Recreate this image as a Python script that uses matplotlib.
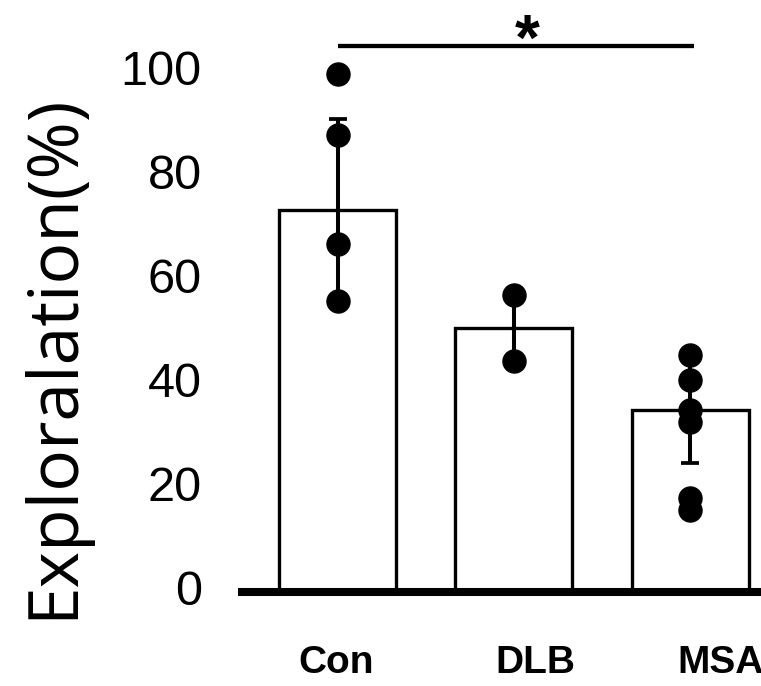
import matplotlib
matplotlib.use("Agg")
import matplotlib.pyplot as plt
import numpy as np

# ---- data ----
categories = ["Con", "DLB", "MSA"]
means = [73.5, 50.8, 35.0]
errors = [17.5, 6.3, 10.2]
points_con = [99.7, 87.9, 67.0, 56.0]
points_dlb = [57.1, 44.4]
points_msa = [45.6, 40.8, 35.0, 32.7, 18.1, 15.8]
points = [points_con, points_dlb, points_msa]
yticks = [0, 20, 40, 60, 80, 100]
ylabel = "Exploralation(%)"
sig_pair = (0, 2)
sig_text = "*"

# ---- style ----
label_x_offset = [-0.01, 0.12, 0.17]

fig = plt.figure(figsize=(7.61, 6.86), dpi=100)
ax = fig.add_axes([0.318, 0.137, 0.682, 0.758])

x = np.arange(len(categories))
ax.bar(x, means, width=0.664, color="white", edgecolor="black",
       linewidth=2.4, zorder=2)
ax.errorbar(x, means, yerr=errors, fmt="none", ecolor="black",
            elinewidth=2.9, capsize=6.7, capthick=2.7, zorder=3)
for xi, pts in zip(x, points):
    ax.plot([xi] * len(pts), pts, "o", color="black", markersize=16.6,
            zorder=4, clip_on=False)

ax.set_xlim(-0.542, 2.402)
ax.set_ylim(0, 100)

for s in ["top", "right", "left"]:
    ax.spines[s].set_visible(False)
ax.spines["bottom"].set_linewidth(5.8)
ax.spines["bottom"].set_zorder(5)

ax.set_yticks(yticks)
ax.set_yticklabels([str(t) for t in yticks], fontsize=35,
                   fontfamily="Liberation Sans")
for lab in ax.get_yticklabels():
    lab.set_verticalalignment("center")
ax.tick_params(axis="y", length=0, pad=29)
ax.set_xticks([])

for xi, lab, off in zip(x, categories, label_x_offset):
    ax.text(xi + off, -0.1366, lab, transform=ax.get_xaxis_transform(),
            ha="center", va="center", fontsize=28, fontweight="bold",
            fontfamily="Liberation Sans", clip_on=False)

# significance bar
ax.plot([x[sig_pair[0]], x[sig_pair[1]] + 0.02], [105, 105], color="black",
        linewidth=3.1, clip_on=False, solid_capstyle="butt")
ax.text(1.075, 102.3, sig_text, ha="center", va="baseline", fontsize=46,
        fontweight="bold", fontfamily="Liberation Sans", clip_on=False)

fig.text(0.071, 0.48, ylabel, rotation=90, ha="center", va="center",
         fontsize=50, fontfamily="Open Sans")

fig.savefig("out.png", dpi=100)
